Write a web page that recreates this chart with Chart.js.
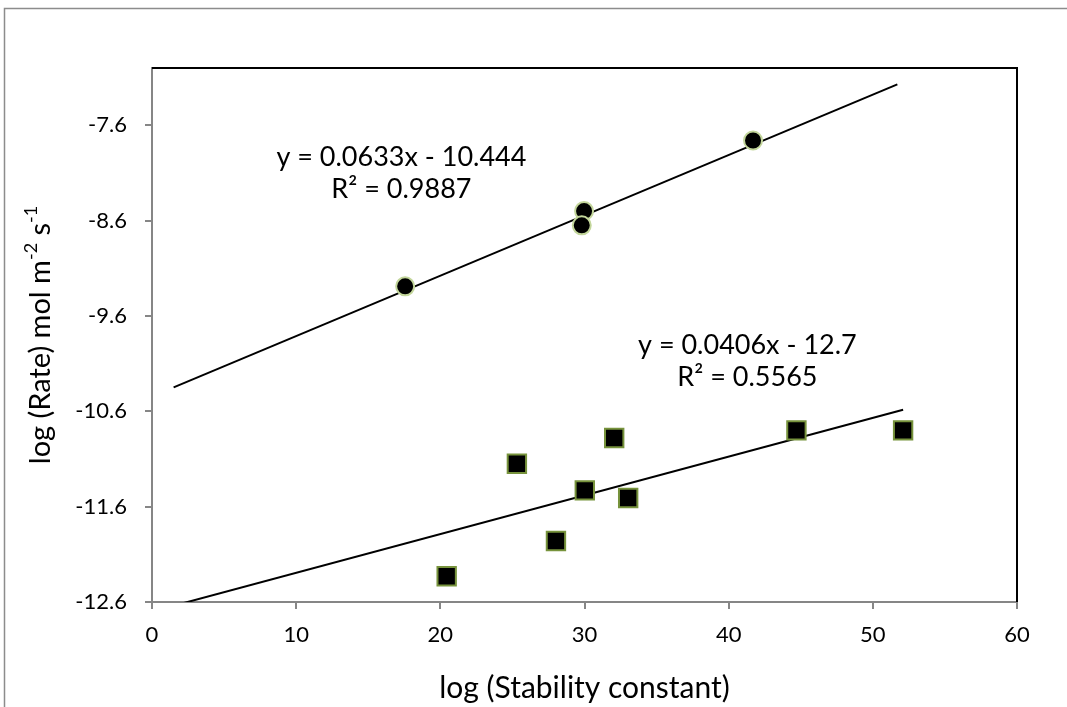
<!DOCTYPE html>
<html>
<head>
<meta charset="utf-8">
<script src="https://cdn.jsdelivr.net/npm/chart.js@4.4.1/dist/chart.umd.min.js"></script>
<style>
  html, body { margin: 0; padding: 0; background: #fff; }
  #wrap { width: 1067px; height: 707px; }
</style>
</head>
<body>
<div id="wrap"><canvas id="rateChart" width="1067" height="707"></canvas></div>
<script>
// measured points: circles and squares
const circleX = [17.56, 29.97, 29.81, 41.69];
const circleY = [-9.29, -8.50, -8.65, -7.76];
const squareX = [20.44, 25.31, 28.02, 30.02, 32.06, 33.03, 44.7, 52.1];
const squareY = [-12.33, -11.15, -11.96, -11.43, -10.88, -11.51, -10.80, -10.80];

// linear fits [slope, intercept] and the x range each line is drawn over
const circleFit = [0.0633, -10.444];
const squareFit = [0.0406, -12.7];
const circleFitSpan = [1.5, 51.7];
const squareFitSpan = [0.4, 52.1];

const circleFitText = ['y = 0.0633x - 10.444', 'R² = 0.9887'];
const squareFitText = ['y = 0.0406x - 12.7', 'R² = 0.5565'];

const yTicks = [-12.6, -11.6, -10.6, -9.6, -8.6, -7.6];
const xTitle = 'log (Stability constant)';
const yTitleParts = [['log (Rate) mol m', false], ['-2', true], [' s', false], ['-1', true]];

const FONT = 'Lato, "Open Sans", sans-serif';
const AXIS_GREY = '#868686';

function toPoints(xs, ys) {
    return xs.map((x, i) => ({ x: x, y: ys[i] }));
}

function fitLine(fit, span) {
    return span.map(x => ({ x: x, y: fit[0] * x + fit[1] }));
}

// where the fit equations sit, in data units (centre of first line)
const labelSpots = [
    { text: circleFitText, x: 17.3, y: -7.94 },
    { text: squareFitText, x: 41.3, y: -9.91 }
];

const decorations = {
    id: 'decorations',
    beforeDraw(chart) {
        const ctx = chart.ctx;
        ctx.save();
        ctx.fillStyle = '#fff';
        ctx.fillRect(0, 0, chart.width, chart.height);
        // outer chart frame (runs off the right and bottom edge)
        ctx.strokeStyle = '#8c8c8c';
        ctx.lineWidth = 1.5;
        ctx.beginPath();
        ctx.moveTo(4.5, chart.height);
        ctx.lineTo(4.5, 8.5);
        ctx.lineTo(chart.width, 8.5);
        ctx.stroke();
        ctx.restore();
    },
    afterDraw(chart) {
        const ctx = chart.ctx;
        const a = chart.chartArea;
        const xs = chart.scales.x, ys = chart.scales.y;
        ctx.save();

        // black top and right edges of the plot area
        ctx.strokeStyle = '#000';
        ctx.lineWidth = 2;
        ctx.beginPath();
        ctx.moveTo(a.left, a.top);
        ctx.lineTo(a.right, a.top);
        ctx.lineTo(a.right, a.bottom);
        ctx.stroke();

        // fit equations
        ctx.fillStyle = '#000';
        ctx.font = '27px ' + FONT;
        ctx.textAlign = 'center';
        ctx.textBaseline = 'middle';
        labelSpots.forEach(spot => {
            const px = xs.getPixelForValue(spot.x);
            const py = ys.getPixelForValue(spot.y);
            spot.text.forEach((line, i) => ctx.fillText(line, px, py + i * 32));
        });

        // rotated y title with superscripts
        const big = '29px ' + FONT, small = '18px ' + FONT;
        let total = 0;
        yTitleParts.forEach(p => {
            ctx.font = p[1] ? small : big;
            total += ctx.measureText(p[0]).width;
        });
        ctx.translate(40, (a.top + a.bottom) / 2);
        ctx.rotate(-Math.PI / 2);
        ctx.textAlign = 'left';
        ctx.textBaseline = 'alphabetic';
        let cx = -total / 2;
        yTitleParts.forEach(p => {
            ctx.font = p[1] ? small : big;
            ctx.fillText(p[0], cx, p[1] ? -3 : 10);
            cx += ctx.measureText(p[0]).width;
        });
        ctx.restore();
    }
};

const ctx = document.getElementById('rateChart').getContext('2d');

const rateChart = new Chart(ctx, {
    type: 'scatter',
    data: {
        datasets: [
            {
                label: 'circles',
                data: toPoints(circleX, circleY),
                pointStyle: 'circle',
                pointRadius: 9,
                pointBorderWidth: 2,
                backgroundColor: '#000',
                borderColor: '#c3d69b',
                order: 1
            },
            {
                label: 'squares',
                data: toPoints(squareX, squareY),
                pointStyle: 'rect',
                pointRadius: 13,
                pointBorderWidth: 2,
                backgroundColor: '#000',
                borderColor: '#77933c',
                order: 1
            },
            {
                label: 'circle fit',
                data: fitLine(circleFit, circleFitSpan),
                showLine: true,
                pointRadius: 0,
                borderColor: '#000',
                borderWidth: 2,
                order: 2
            },
            {
                label: 'square fit',
                data: fitLine(squareFit, squareFitSpan),
                showLine: true,
                pointRadius: 0,
                borderColor: '#000',
                borderWidth: 2,
                order: 2
            }
        ]
    },
    options: {
        responsive: false,
        animation: false,
        devicePixelRatio: 1,
        layout: { padding: { top: 68, right: 50, bottom: 0, left: 0 } },
        plugins: {
            legend: { display: false },
            tooltip: { enabled: false }
        },
        scales: {
            x: {
                type: 'linear',
                min: 0,
                max: 60,
                ticks: { stepSize: 10, padding: 13, color: '#000', font: { family: FONT, size: 22 } },
                grid: { drawOnChartArea: false, tickLength: 7, color: AXIS_GREY, lineWidth: 2 },
                border: { color: AXIS_GREY, width: 2 },
                title: {
                    display: true,
                    text: xTitle,
                    color: '#000',
                    font: { family: FONT, size: 30 },
                    padding: { top: 0, bottom: 1 }
                },
                afterFit(scale) { scale.height = 105; }
            },
            y: {
                type: 'linear',
                min: -12.6,
                max: -7.0,
                afterBuildTicks(axis) {
                    axis.ticks = yTicks.map(v => ({ value: v }));
                },
                ticks: {
                    padding: 18,
                    color: '#000',
                    font: { family: FONT, size: 22 },
                    callback: v => v.toFixed(1)
                },
                grid: { drawOnChartArea: false, tickLength: 7, color: AXIS_GREY, lineWidth: 2 },
                border: { color: AXIS_GREY, width: 2 },
                afterFit(scale) { scale.width = 152; }
            }
        }
    },
    plugins: [decorations]
});
</script>
</body>
</html>
